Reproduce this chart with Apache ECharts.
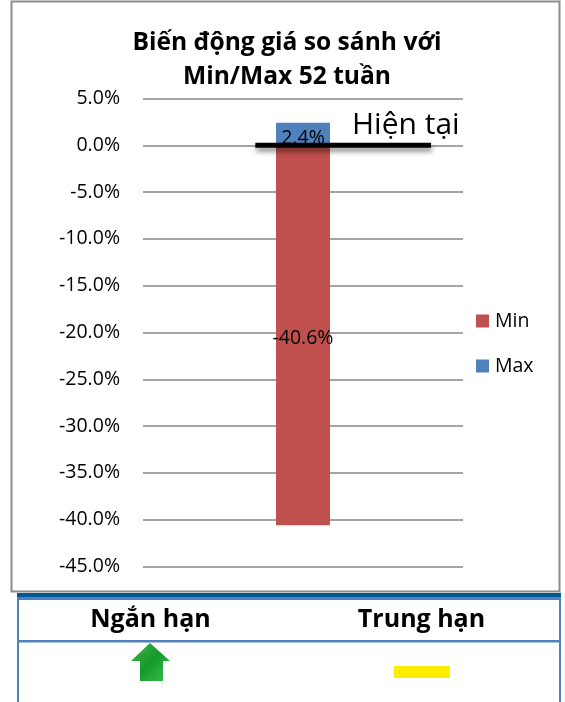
<!DOCTYPE html>
<html><head><meta charset="utf-8">
<style>html,body{margin:0;padding:0;background:#fff}#c{width:565px;height:702px}</style>
<script src="https://cdn.jsdelivr.net/npm/echarts@6/dist/echarts.min.js"></script>
</head><body><div id="c"></div>
<script>
const categories = ['Biến động'];
const minValues = [-40.6];
const maxValues = [2.4];
const currentLevel = [[0.351, 0], [0.9, 0]];
const titleLines = 'Biến động giá so sánh với\nMin/Max 52 tuần';
const currentLabel = 'Hiện tại';
const tableHeaders = ['Ngắn hạn', 'Trung hạn'];
const font = '"Open Sans","Noto Sans",sans-serif';
const blue = '#4f81bd', red = '#c0504d';

const chart = echarts.init(document.getElementById('c'), null, {renderer: 'canvas'});
const rect = (x, y, w, h, fill, z) => ({type: 'rect', shape: {x, y, width: w, height: h}, style: {fill}, z: z || 0, silent: true});
const text = (x, y, t, size, weight, align) => ({type: 'text', x, y, z: 20, silent: true,
  style: {text: t, font: `${weight} ${size}px ${font}`, fill: '#000', align: align || 'center', verticalAlign: 'middle'}});

chart.setOption({
  backgroundColor: '#fff',
  animation: false,
  title: {
    text: titleLines, left: 282, top: 21, textAlign: 'center',
    textStyle: {fontFamily: font, fontSize: 24.6, fontWeight: 'bold', color: '#000', lineHeight: 34}
  },
  legend: {
    data: ['Min', 'Max'], orient: 'vertical', left: 471, top: 306, itemWidth: 13, itemHeight: 13,
    itemGap: 25, icon: 'rect', selectedMode: false,
    textStyle: {fontFamily: font, fontSize: 19.5, color: '#000', padding: [0, 0, 0, 1]}
  },
  grid: {left: 143, right: 102, top: 98.5, height: 468},
  xAxis: [
    {type: 'category', data: categories, axisLine: {show: false}, axisTick: {show: false}, axisLabel: {show: false}},
    {type: 'value', min: 0, max: 1, show: false}
  ],
  yAxis: {
    type: 'value', min: -45, max: 5, interval: 5,
    axisLine: {show: false}, axisTick: {show: false},
    axisLabel: {margin: 23, fontFamily: font, fontSize: 19.5, color: '#000', formatter: v => v.toFixed(1) + '%'},
    splitLine: {lineStyle: {color: '#868686', width: 1.5}}
  },
  series: [
    {name: 'Min', type: 'bar', stack: 's', data: minValues, barWidth: 54, itemStyle: {color: red},
     label: {show: true, position: 'inside', offset: [0, 3], formatter: p => p.value.toFixed(1) + '%', fontFamily: font, fontSize: 19.5, color: '#000'}},
    {name: 'Max', type: 'bar', stack: 's', data: maxValues, barWidth: 54, itemStyle: {color: blue},
     label: {show: true, position: 'inside', offset: [0, 4], formatter: p => p.value.toFixed(1) + '%', fontFamily: font, fontSize: 19.5, color: '#000'}},
    {name: currentLabel, type: 'line', xAxisIndex: 1, data: currentLevel, symbol: 'none', z: 10,
     lineStyle: {color: '#000', width: 5, cap: 'butt', shadowColor: 'rgba(0,0,0,0.45)', shadowBlur: 5, shadowOffsetY: 4, shadowOffsetX: 1}}
  ],
  graphic: [
    rect(17, 593, 544, 4, '#005a96'),
    rect(17, 597, 544, 3, blue),
    rect(17, 597, 2, 105, blue),
    rect(559, 597, 2, 105, blue),
    rect(17, 640, 544, 2.5, blue),
    text(150.5, 620, tableHeaders[0], 25, 'bold'),
    text(421.5, 620, tableHeaders[1], 25, 'bold'),
    {type: 'polygon', silent: true, shape: {points: [[150, 643], [170, 661], [163, 661], [163, 681], [140, 681], [140, 661], [131, 661]]},
     style: {fill: new echarts.graphic.LinearGradient(0, 0, 1, 1, [{offset: 0, color: '#4cb050'}, {offset: 0.5, color: '#149a2a'}, {offset: 1, color: '#3fbf50'}])}},
    rect(394, 666, 56, 12, '#ffed00'),
    {type: 'rect', shape: {x: 11.5, y: 1.5, width: 548, height: 590}, style: {fill: 'none', stroke: '#8c8c8c', lineWidth: 2}, z: 5, silent: true},
    text(352, 125, currentLabel, 30, 'normal', 'left')
  ]
});
</script></body></html>
